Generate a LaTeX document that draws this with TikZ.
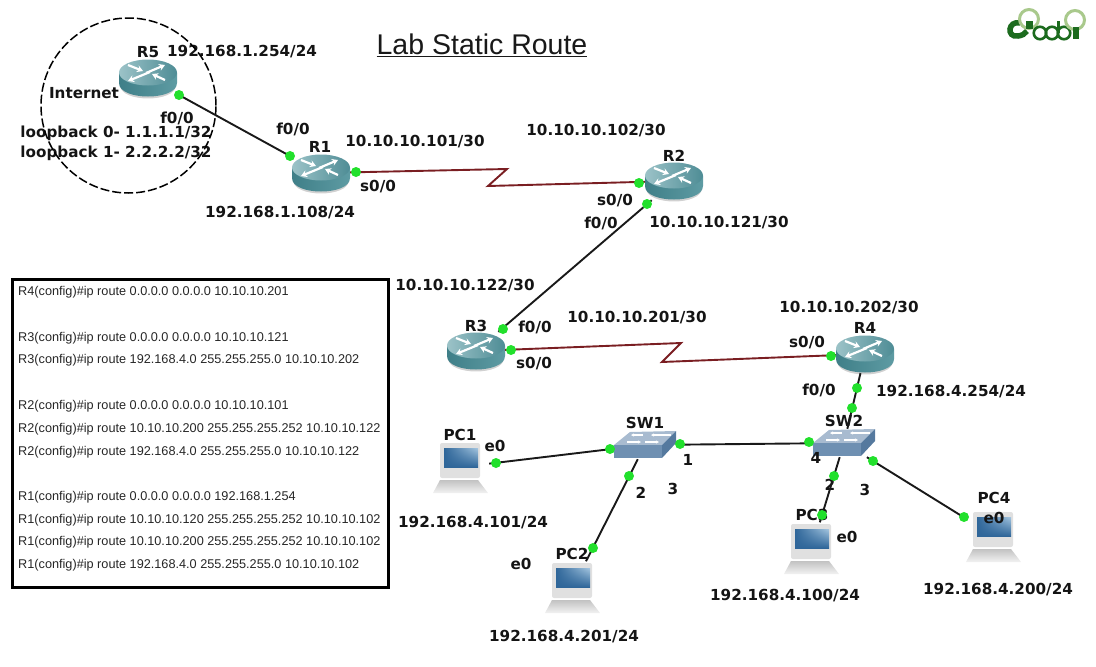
\documentclass[tikz,border=0pt]{standalone}
\usepackage{fontspec}
\setmainfont{DejaVu Sans}
\newfontfamily\cfgfont{Liberation Sans}
\usetikzlibrary{arrows.meta,shadings}
\definecolor{serialred}{HTML}{7A1E22}
\definecolor{portgreen}{HTML}{22E02C}
\definecolor{logodark}{HTML}{1C6B1E}
\definecolor{logolight}{HTML}{A9C98C}
\definecolor{routerside}{HTML}{3F7F88}
\definecolor{routerlit}{HTML}{5E9BA3}
\definecolor{routertop}{HTML}{9CC3C8}
\definecolor{routertopb}{HTML}{4E8C95}
\definecolor{swtop}{HTML}{A8BBD0}
\definecolor{swfront}{HTML}{6F90B2}
\definecolor{swside}{HTML}{55799E}
\definecolor{screendark}{HTML}{2F6699}
\definecolor{screenlit}{HTML}{A5C6E0}
\tikzset{
  lbl/.style = {font=\fontsize{15.2}{17}\selectfont\bfseries, inner sep=0pt, text=black!92, yshift=-1pt},
  cfgline/.style = {font=\cfgfont\fontsize{12.7}{14}\selectfont, anchor=west, inner sep=0pt, text=black!85, yshift=-2pt},
  routerbox/.style = {shape=rectangle, minimum width=58, minimum height=38, inner sep=0pt},
  switchbox/.style = {shape=rectangle, minimum width=62, minimum height=28, inner sep=0pt},
  pcbox/.style = {shape=rectangle, minimum width=56, minimum height=51, inner sep=0pt},
  port/.style = {shape=circle, fill=portgreen, minimum size=10, inner sep=0pt},
  link/.style = {line width=1.9, black!90},
  serial/.style = {line width=1.9, serialred},
  wharrow/.style = {white, line width=2.2, -{Stealth[length=6,width=7]}},
  routericon/.pic = {
    \fill[black!18] (-28,7) .. controls (-28,25) and (28,25) .. (28,7) -- cycle;
    \shade[left color=routerside, right color=routerlit]
      (-29,-5) -- (-29,5) .. controls (-29,23) and (29,23) .. (29,5) -- (29,-5) -- cycle;
    \shade[left color=routertop, right color=routertopb]
      (0,-5.5) ellipse [x radius=29, y radius=13];
    \draw[wharrow] (-20,-13) -- (-5,-7);
    \draw[wharrow] (17,2) -- (4,-4);
    \draw[wharrow] (-2,-5) -- (17,-13);
    \draw[wharrow] (2,-6) -- (-20,3);
  },
  switchicon/.pic = {
    \fill[swtop] (-31,0) -- (-15,-13) -- (31,-14) -- (17,0) -- cycle;
    \fill[swfront] (-31,0) -- (17,0) -- (17,13) -- (-31,13) -- cycle;
    \fill[swside] (17,0) -- (31,-14) -- (31,-2) -- (17,13) -- cycle;
    \draw[white, line width=1.2, -{Stealth[length=3,width=3]}] (-18,-3) -- (-4,-3);
    \draw[white, line width=1.2, -{Stealth[length=3,width=3]}] (0,-3) -- (14,-3);
    \draw[white, line width=1.2, -{Stealth[length=3,width=3]}] (-2,-10) -- (-14,-10);
    \draw[white, line width=1.2, -{Stealth[length=3,width=3]}] (26,-10) -- (6,-10);
  },
  pcicon/.pic = {
    \shade[top color=black!24, bottom color=black!5]
      (-21,13) -- (17,13) -- (27,26) -- (-28,26) -- cycle;
    \fill[black!12, rounded corners=2] (-21,-24) rectangle (19,11);
    \shade[upper left=screendark, upper right=screenlit, lower left=screendark, lower right=screendark]
      (-17,-19) rectangle (17,0);
  },
}
\begin{document}
\begin{tikzpicture}[x=1pt,y=-1pt]
\useasboundingbox (0,0) rectangle (1096,667);
% devices
\foreach \name/\x/\y in {r5/148/78,r1/321/173,r2/674/181,r3/476/351,r4/865/354}{
  \node[routerbox] (\name) at (\x,\y) {};
  \pic at (\name) {routericon};
}
\foreach \name/\x/\y in {sw1/645/445,sw2/844/443}{
  \node[switchbox] (\name) at (\x,\y) {};
  \pic at (\name) {switchicon};
}
\foreach \name/\x/\y in {pc1/461/467,pc2/573/587,pc3/812/548,pc4/994/536}{
  \node[pcbox] (\name) at (\x,\y) {};
  \pic at (\name) {pcicon};
}
% title
\node[font=\cfgfont\fontsize{28.5}{32}\selectfont, inner sep=0pt, text=black!90] (title) at (482,45) {\underline{Lab Static Route}};
% labels around R5 and R1
\node[lbl] (nr5) at (148,51) {R5};
\node[lbl] (ip5) at (242,51) {192.168.1.254/24};
\node[lbl] (inet) at (84,92) {Internet};
\node[lbl] (f5) at (177,117) {f0/0};
\node[lbl] (lo0) at (116,132) {loopback 0- 1.1.1.1/32};
\node[lbl] (lo1) at (116,152) {loopback 1- 2.2.2.2/32};
\node[lbl] (f1) at (293,128) {f0/0};
\node[lbl] (nr1) at (320,146) {R1};
\node[lbl] (ip1a) at (415,141) {10.10.10.101/30};
\node[lbl] (s1) at (378,186) {s0/0};
\node[lbl] (ip1b) at (280,212) {192.168.1.108/24};
% labels around R2 and R3
\node[lbl] (ip2a) at (596,130) {10.10.10.102/30};
\node[lbl] (nr2) at (674,155) {R2};
\node[lbl] (s2) at (615,200) {s0/0};
\node[lbl] (f2) at (601,222) {f0/0};
\node[lbl] (ip2b) at (719,222) {10.10.10.121/30};
\node[lbl] (ip3a) at (465,285) {10.10.10.122/30};
\node[lbl] (nr3) at (476,325) {R3};
\node[lbl] (f3) at (535,326) {f0/0};
\node[lbl] (ip3b) at (637,317) {10.10.10.201/30};
\node[lbl] (s3) at (534,363) {s0/0};
% labels around R4
\node[lbl] (ip4a) at (849,307) {10.10.10.202/30};
\node[lbl] (s4) at (807,342) {s0/0};
\node[lbl] (nr4) at (865,327) {R4};
\node[lbl] (f4) at (819,389) {f0/0};
\node[lbl] (ip4b) at (951,391) {192.168.4.254/24};
% labels around the switches
\node[lbl] (nsw1) at (645,422) {SW1};
\node[lbl] (p11) at (688,459) {1};
\node[lbl] (p12) at (641,492) {2};
\node[lbl] (p13) at (673,488) {3};
\node[lbl] (nsw2) at (844,420) {SW2};
\node[lbl] (p24) at (816,457) {4};
\node[lbl] (p22) at (830,484) {2};
\node[lbl] (p23) at (865,489) {3};
% labels around the PCs
\node[lbl] (npc1) at (460,434) {PC1};
\node[lbl] (e1) at (495,445) {e0};
\node[lbl] (ip6) at (473,522) {192.168.4.101/24};
\node[lbl] (npc2) at (572,553) {PC2};
\node[lbl] (e2) at (521,563) {e0};
\node[lbl] (ip7) at (564,636) {192.168.4.201/24};
\node[lbl] (npc3) at (812,514) {PC3};
\node[lbl] (e3) at (847,536) {e0};
\node[lbl] (ip8) at (785,595) {192.168.4.100/24};
\node[lbl] (npc4) at (994,497) {PC4};
\node[lbl] (e4) at (994,517) {e0};
\node[lbl] (ip9) at (998,589) {192.168.4.200/24};
% internet cloud
\node[shape=circle, draw, dash pattern=on 9 off 3, line width=1.5, minimum size=175, inner sep=0pt] (cloud) at (128.5,105.5) {};
% routes box
\node[draw, line width=3, minimum width=376, minimum height=308, inner sep=0pt] (routes) at (200,433.5) {};
\foreach \y/\txt in {290/R4(config)\#ip route 0.0.0.0 0.0.0.0 10.10.10.201,
  336/R3(config)\#ip route 0.0.0.0 0.0.0.0 10.10.10.121,
  358/R3(config)\#ip route 192.168.4.0 255.255.255.0 10.10.10.202,
  404/R2(config)\#ip route 0.0.0.0 0.0.0.0 10.10.10.101,
  427/R2(config)\#ip route 10.10.10.200 255.255.255.252 10.10.10.122,
  450/R2(config)\#ip route 192.168.4.0 255.255.255.0 10.10.10.122,
  495/R1(config)\#ip route 0.0.0.0 0.0.0.0 192.168.1.254,
  518/R1(config)\#ip route 10.10.10.120 255.255.255.252 10.10.10.102,
  540/R1(config)\#ip route 10.10.10.200 255.255.255.252 10.10.10.102,
  563/R1(config)\#ip route 192.168.4.0 255.255.255.0 10.10.10.102}{
  \node[cfgline] (cfg\y) at (18,\y) {\txt};
}
% zigzag corners of the serial links
\coordinate (z1) at (507,169);
\coordinate (z2) at (488,186);
\coordinate (z3) at (681,343);
\coordinate (z4) at (662,362);
% links
\draw[link] (r5) -- (r1);
\draw[serial] (r1) -- (z1) -- (z2) -- (r2);
\draw[link] (r2) -- (r3);
\draw[serial] (r3) -- (z3) -- (z4) -- (r4);
\draw[link] (r4) -- (sw2);
\draw[link] (sw1) -- (sw2);
\draw[link] (pc1) -- (sw1);
\draw[link] (sw1) -- (pc2);
\draw[link] (sw2) -- (pc3);
\draw[link] (sw2) -- (pc4);
% ports
\foreach \name/\x/\y in {a1/179/95,a2/290/156,a3/356/172,a4/639/183,a5/647/204,a6/503/329,
  a7/511/350,a8/831/356,a9/857/388,a10/852/408,b1/680/444,b2/809/442,b3/496/463,b4/610/449,
  b5/629/476,b6/593/548,b7/834/476,b8/822/515,b9/873/461,b10/964/517}{
  \node[port] (\name) at (\x,\y) {};
}
% logo
\draw[logodark, line width=5.5] (1020,23) .. controls (1008,20) and (1006,38) .. (1018,36) .. controls (1022,35.5) and (1025,34) .. (1027,31);
\node[shape=circle, draw=logolight, line width=3, minimum size=19, inner sep=0pt] (ring1) at (1029,19) {};
\fill[logodark] (1026,21) rectangle (1033,29);
\foreach \name/\x in {o1/1040,o2/1052,o3/1064}{
  \node[shape=circle, draw=logodark, line width=2.6, minimum size=12.5, inner sep=0pt] (\name) at (\x,33) {};
}
\fill[logodark] (1057,21) rectangle (1060,33);
\node[shape=circle, draw=logolight, line width=3, minimum size=19, inner sep=0pt] (ring2) at (1075,20) {};
\fill[logodark] (1073,27) rectangle (1079,39);
\end{tikzpicture}
\end{document}
